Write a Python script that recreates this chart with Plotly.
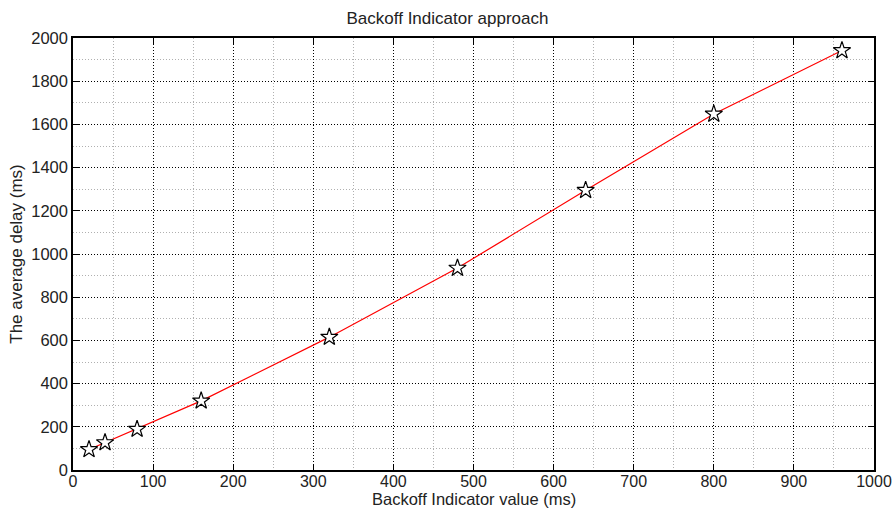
import plotly.graph_objects as go

backoff_ms = [20, 40, 80, 160, 320, 480, 640, 800, 960]
avg_delay_ms = [95, 127, 189, 320, 615, 935, 1295, 1648, 1942]

x_ticks = list(range(0, 1001, 100))
y_ticks = list(range(0, 2001, 200))

FONT = "Liberation Sans, Arial, Helvetica, sans-serif"
H = 508
T, B = 38, 38
PLOT_H = H - T - B

fig = go.Figure()
fig.add_trace(go.Scatter(
    x=backoff_ms, y=avg_delay_ms, mode="lines+markers",
    line=dict(color="#ff0000", width=1.2),
    marker=dict(symbol="star", size=13, color="white",
                line=dict(color="black", width=1.2)),
    showlegend=False,
))

axis_common = dict(
    showline=True, linecolor="black", linewidth=1.5, mirror="ticks",
    ticks="inside", ticklen=6, tickcolor="black", tickwidth=1,
    showgrid=True, gridcolor="black", griddash="1px,2px", gridwidth=1,
    zeroline=False, automargin=False,
)

fig.update_xaxes(
    range=[0, 1000], tickvals=x_ticks, ticktext=[str(v) for v in x_ticks],
    minor=dict(dtick=50, showgrid=True, gridcolor="#b0b0b0", griddash="1px,2px", gridwidth=1, ticks=""),
    ticklabelstandoff=-4,
    tickfont=dict(family=FONT, size=16, color="#222222"),
    **axis_common,
)
fig.update_yaxes(
    range=[0, 2000], tickvals=y_ticks, ticktext=[str(v) for v in y_ticks],
    minor=dict(dtick=100, showgrid=True, gridcolor="#b0b0b0", griddash="1px,2px", gridwidth=1, ticks=""),
    title=dict(text="The average delay (ms)", font=dict(family=FONT, size=17, color="#222222"), standoff=4),
    tickfont=dict(family=FONT, size=16.5, color="#222222"),
    **axis_common,
)

fig.add_annotation(
    text="Backoff Indicator value (ms)", xref="paper", yref="paper",
    x=0.5, y=-(498.5 - (H - B)) / PLOT_H, xanchor="center", yanchor="middle",
    showarrow=False, borderpad=0, font=dict(family=FONT, size=16.5, color="#222222"),
)

fig.update_layout(
    width=895, height=H,
    margin=dict(l=73, r=21, t=T, b=B),
    paper_bgcolor="white", plot_bgcolor="white",
    title=dict(text="Backoff Indicator approach", x=0.5, xanchor="center",
               y=1 - 18 / H, yanchor="middle",
               font=dict(family=FONT, size=17, color="#222222")),
)

fig.write_html("out.html")
